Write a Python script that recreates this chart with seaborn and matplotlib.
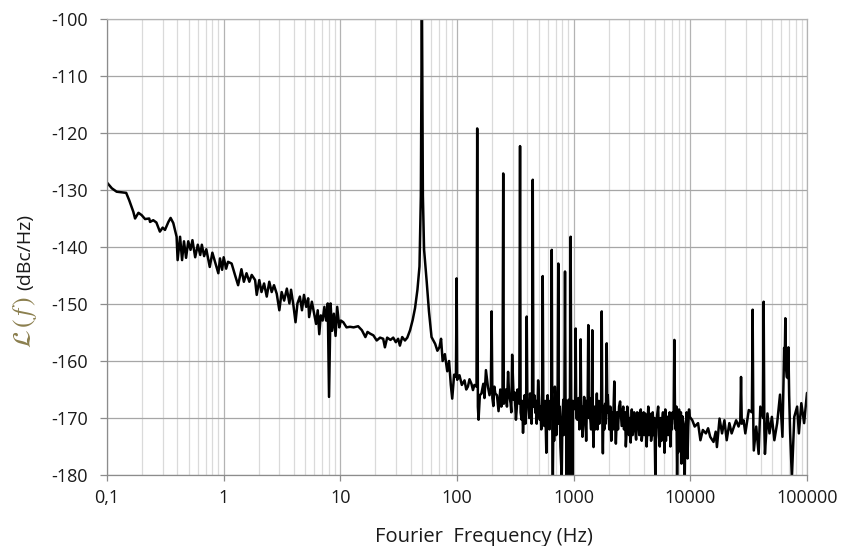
import matplotlib
matplotlib.use("Agg")
import matplotlib.pyplot as plt
import pandas as pd
import seaborn as sns
from matplotlib.ticker import FixedLocator, LogLocator, NullFormatter, FixedFormatter

sns.set_theme(style="white")
plt.rcParams['font.family'] = ['Open Sans', 'DejaVu Sans']
plt.rcParams['mathtext.fontset'] = 'stix'

# ---- noise floor trace (Hz, dBc/Hz) ----
floor_hz = [
    0.1, 0.11, 0.121, 0.134, 0.146, 0.155, 0.168, 0.174, 0.186, 0.198,
    0.212, 0.23, 0.234, 0.249, 0.265, 0.284, 0.30, 0.314, 0.336, 0.351,
    0.37, 0.395, 0.403, 0.423, 0.44, 0.457, 0.476, 0.497, 0.52, 0.54,
    0.57, 0.60, 0.63, 0.65, 0.68, 0.71, 0.76, 0.80, 0.84, 0.90,
    0.93, 0.97, 1.0, 1.05, 1.09, 1.17, 1.25, 1.33, 1.42, 1.49,
    1.57, 1.66, 1.74, 1.86, 1.92, 2.02, 2.11, 2.22, 2.34, 2.46,
    2.58, 2.70, 2.85, 3.00, 3.14, 3.30, 3.48, 3.66, 3.78, 3.96,
    4.13, 4.29, 4.50, 4.69, 4.88, 5.10, 5.30, 5.40, 5.70, 5.96,
    6.20, 6.40, 6.60, 6.80, 7.05, 7.30, 7.55, 7.80, 8.0, 8.25,
    8.50, 8.80, 9.10, 9.40, 9.80, 10.1, 10.6, 11.3, 12.1, 13.0,
    14.2, 15.3, 16.4, 17.1, 18.0, 19.2, 20.5, 21.9, 23.3, 24.1,
    25.2, 26.9, 28.4, 29.9, 31.3, 32.4, 33.9, 35.8, 37.5, 39.6,
    41.7, 43.7, 45.8, 47.7, 49.0, 51.0, 52.2, 55.0, 57.5, 60.5,
    65.0, 67.9, 70.7, 73.0, 75.3, 78.7, 82.5, 85.5, 88.5, 91.0,
    94.5, 101, 110, 116, 124, 133, 137, 141, 153, 162,
    177, 184, 205, 213, 227, 255, 274, 288, 297, 306,
    320, 335, 358, 368, 410, 423, 470, 496, 513, 560,
    583, 610, 663, 690, 790, 815, 870, 905, 920, 975,
    1000, 1075, 1190, 1230, 1390, 1480, 1580, 1640, 1780, 1990,
    2300, 2500, 2580, 2660, 2840, 2930, 3080, 3250, 3430, 3590,
    3760, 3910, 4100, 4290, 4470, 4680, 5010, 5180, 5470, 5740,
    6010, 6250, 6560, 6880, 7700, 8100, 8550, 8960, 9200, 9460,
    9890, 10400, 10900, 11650, 12200, 12800, 13600, 14200, 14800, 15800,
    16500, 16900, 17800, 18700, 19600, 20500, 21600, 22600, 23700, 24700,
    25900, 28600, 29600, 31700, 35000, 36700, 38500, 39800, 43600, 45800,
    47700, 50000, 52500, 55500, 58700, 61600, 63700, 67000, 71700, 74200,
    77800, 82300, 85200, 89400, 94500, 100000,
]
floor_dbc = [
    -128.7, -129.7, -130.3, -130.4, -130.5, -131.8, -133.8, -135.0, -134.0, -134.4,
    -135.1, -135.0, -135.6, -135.3, -135.7, -137.3, -136.6, -137.0, -135.6, -134.9,
    -135.8, -138.2, -142.3, -138.2, -142.3, -139.0, -141.9, -139.0, -140.5, -138.8,
    -141.8, -139.6, -141.4, -139.6, -141.6, -140.4, -143.5, -141.0, -142.5, -144.6,
    -142.0, -144.0, -141.8, -143.8, -142.6, -142.9, -144.9, -146.7, -143.9, -146.1,
    -144.6, -146.1, -144.9, -145.8, -148.4, -145.8, -147.9, -146.4, -148.7, -146.1,
    -147.9, -146.7, -148.2, -151.1, -147.9, -149.4, -147.3, -149.9, -147.5, -150.2,
    -153.2, -149.9, -148.7, -151.1, -148.4, -150.5, -149.0, -152.3, -149.6, -151.7,
    -153.5, -151.1, -155.3, -152.0, -152.9, -150.5, -152.9, -149.9, -166.3, -149.9,
    -154.7, -151.7, -155.6, -150.5, -154.1, -152.9, -153.2, -154.1, -154.0, -154.1,
    -153.9, -154.6, -155.8, -154.9, -155.2, -155.5, -156.4, -155.9, -156.1, -157.6,
    -155.9, -156.3, -155.9, -156.7, -156.1, -157.3, -155.8, -156.4, -155.9, -154.6,
    -152.8, -150.7, -147.5, -143.4, -131.0, -131.0, -140.4, -146.1, -151.3, -155.8,
    -157.0, -158.2, -157.6, -156.1, -160.0, -158.8, -161.8, -160.0, -164.2, -166.6,
    -162.4, -163.0, -164.2, -163.4, -164.5, -164.0, -165.1, -164.2, -170.3, -165.7,
    -161.6, -164.5, -167.9, -165.7, -168.8, -166.8, -161.9, -167.4, -158.9, -166.8,
    -170.3, -166.8, -170.3, -172.6, -167.9, -165.7, -169.1, -163.4, -170.3, -171.4,
    -176.1, -168.5, -180.5, -164.5, -180.5, -166.8, -181.0, -166.8, -180.5, -180.5,
    -168.5, -170.3, -173.3, -166.3, -170.3, -175.1, -165.7, -169.2, -176.2, -169.2,
    -174.5, -167.1, -171.4, -168.0, -172.6, -169.7, -174.3, -170.9, -173.8, -170.3,
    -168.5, -172.0, -169.2, -171.4, -169.2, -172.6, -180.5, -169.7, -175.0, -170.3,
    -176.1, -169.7, -171.4, -169.2, -180.5, -170.3, -169.7, -180.0, -170.4, -177.1,
    -169.8, -170.4, -171.5, -170.9, -173.9, -172.1, -172.7, -171.8, -173.3, -174.2,
    -172.4, -175.1, -170.1, -172.7, -170.4, -173.9, -170.9, -172.7, -171.5, -170.4,
    -171.5, -170.4, -172.7, -168.6, -175.7, -171.5, -176.3, -168.0, -176.3, -169.2,
    -172.7, -169.8, -173.9, -170.9, -165.9, -173.3, -157.7, -162.8, -172.7, -180.5,
    -169.8, -168.0, -172.7, -167.4, -170.9, -165.6,
]

# ---- fine ripple of the floor between 100 Hz and 10 kHz ----
ripple_hz = [
    105, 120, 128, 157, 168, 172, 190, 209, 220, 235,
    240, 262, 268, 280, 292, 312, 326, 330, 362, 374,
    380, 386, 416, 430, 436, 460, 476, 482, 490, 503,
    520, 528, 570, 590, 598, 620, 630, 672, 680, 700,
    710, 720, 760, 770, 800, 822, 860, 880, 890, 912,
    965, 985, 1100, 1120, 1170, 1210, 1260, 1280, 1300, 1370,
    1410, 1500, 1530, 1560, 1600, 1620, 1660, 1690, 1800, 1830,
    1860, 1880, 1960, 2020, 2060, 2100, 2140, 2180, 2350, 2400,
    2450, 2700, 2760, 2800, 2880, 2980, 3030, 3150, 3200, 3300,
    3360, 3500, 3650, 3700, 3830, 3980, 4040, 4160, 4220, 4360,
    4420, 4550, 4610, 4760, 4850, 4930, 5090, 5300, 5380, 5560,
    5650, 5830, 5920, 6100, 6180, 6350, 6450, 6650, 6750, 6950,
    7050, 7500, 7600, 7800, 7900, 8000, 8200, 8300, 8400, 8700,
    8800, 9050, 9300, 9600, 9750,
]
ripple_dbc = [
    -162.5, -165.0, -163.2, -166.0, -164.0, -166.5, -166.0, -164.5, -166.0, -165.0,
    -168.0, -165.0, -168.0, -166.0, -169.0, -165.5, -168.0, -165.0, -167.0, -169.0,
    -166.0, -171.0, -170.0, -168.0, -171.0, -166.0, -167.0, -171.0, -168.0, -166.0,
    -168.0, -172.0, -167.0, -170.0, -166.0, -172.0, -167.0, -168.0, -174.0, -167.0,
    -173.0, -168.0, -168.0, -175.0, -170.0, -173.0, -167.0, -172.0, -168.0, -170.0,
    -170.0, -167.0, -166.5, -172.0, -168.0, -171.0, -169.0, -174.0, -167.0, -166.5,
    -172.0, -168.0, -172.0, -170.0, -172.0, -167.0, -171.0, -167.0, -168.0, -172.0,
    -167.5, -171.0, -166.0, -172.0, -168.0, -174.0, -169.0, -172.0, -169.0, -172.0,
    -168.0, -172.0, -169.0, -175.0, -168.0, -173.0, -170.0, -168.5, -173.0, -169.0,
    -172.0, -169.0, -173.0, -169.0, -174.0, -169.0, -173.0, -171.0, -175.0, -168.0,
    -173.0, -170.0, -174.0, -169.0, -173.0, -170.0, -172.0, -168.0, -173.0, -170.0,
    -174.0, -169.0, -172.0, -168.5, -174.0, -170.0, -173.0, -169.0, -175.0, -172.0,
    -169.0, -172.0, -168.0, -171.0, -176.0, -168.5, -174.0, -169.0, -178.0, -171.0,
    -174.0, -172.0, -169.0, -171.5, -168.5,
]

# ---- discrete spurs (Hz, dBc/Hz) ----
spur_hz = [50, 99.3, 149, 198, 249, 347, 396, 446, 543, 649,
           738, 843, 942, 1040, 1148, 1334, 1444, 1740, 1920, 2230,
           7300, 27200, 34200, 42500, 65200, 69300]
spur_dbc = [-95.0, -145.5, -119.2, -151.3, -127.1, -122.3, -152.2, -128.2, -145.1, -140.5,
            -142.9, -144.3, -138.2, -154.3, -156.2, -153.7, -154.6, -151.3, -156.9, -163.6,
            -156.3, -162.8, -151.0, -149.6, -152.5, -157.6]

# floor level right at the foot of each spur (left / right side)
spur_foot_hz = [97.9, 100.4, 147, 151, 195, 201, 245.5, 252, 342, 351,
                391, 401, 440, 452, 536, 550, 641, 656, 728, 747,
                832, 853, 930, 955, 1027, 1053, 1133, 1162, 1317, 1350,
                1425, 1462, 1718, 1760, 1895, 1945, 2200, 2260, 7200, 7400,
                26800, 27600, 33700, 34700, 41900, 43100, 64400, 66000, 68400, 70300]
spur_foot_dbc = [-162.8, -163.3, -164.5, -168.0, -164.8, -166.5, -166.0, -167.5, -167.5, -169.0,
                 -168.5, -167.0, -166.0, -168.0, -167.5, -169.5, -170.0, -172.0, -169.0, -171.0,
                 -168.5, -170.0, -169.0, -171.0, -168.0, -170.0, -169.0, -171.0, -168.0, -170.0,
                 -169.0, -171.0, -168.0, -170.0, -167.0, -169.0, -168.0, -170.0, -170.0, -171.0,
                 -170.5, -171.0, -169.0, -172.0, -170.0, -172.0, -160.0, -161.0, -163.0, -166.0]

x_ticks = [0.1, 1, 10, 100, 1000, 10000, 100000]
x_tick_labels = ["0,1", "1", "10", "100", "1000", "10000", "100000"]
y_ticks = [-180, -170, -160, -150, -140, -130, -120, -110, -100]

df = pd.DataFrame({"freq": floor_hz + ripple_hz + spur_hz + spur_foot_hz,
                   "level": floor_dbc + ripple_dbc + spur_dbc + spur_foot_dbc})
df = df.drop_duplicates(subset="freq").sort_values("freq")

W, H = 841, 546
fig = plt.figure(figsize=(W / 100, H / 100), dpi=100)
ax = fig.add_axes([107 / W, 1 - 475 / H, 700 / W, 456 / H])

sns.lineplot(data=df, x="freq", y="level", ax=ax, color="black",
             linewidth=1.8, estimator=None, sort=True)

ax.set_xscale("log")
ax.set_xlim(0.1, 1e5)
ax.set_ylim(-180, -100)

ax.xaxis.set_major_locator(FixedLocator(x_ticks))
ax.xaxis.set_major_formatter(FixedFormatter(x_tick_labels))
ax.xaxis.set_minor_locator(LogLocator(base=10, subs=range(2, 10), numticks=20))
ax.xaxis.set_minor_formatter(NullFormatter())
ax.yaxis.set_major_locator(FixedLocator(y_ticks))
ax.set_yticklabels([str(v) for v in y_ticks])

ax.grid(True, which="major", axis="x", color="#b3b3b3", linewidth=0.9)
ax.grid(True, which="minor", axis="x", color="#dadada", linewidth=0.9)
ax.grid(True, which="major", axis="y", color="#a6a6a6", linewidth=0.9)
ax.set_axisbelow(True)

for s in ["left", "bottom"]:
    ax.spines[s].set_color("#8c8c8c")
    ax.spines[s].set_linewidth(0.9)
for s in ["top", "right"]:
    ax.spines[s].set_color("#b3b3b3")
    ax.spines[s].set_linewidth(0.9)

ax.tick_params(axis="x", which="major", direction="out", length=4, width=0.9,
               color="#8c8c8c", pad=6, labelsize=13, labelcolor="#1a1a1a", bottom=True)
ax.tick_params(axis="x", which="minor", length=0)
ax.tick_params(axis="y", which="major", direction="out", length=5, width=0.9,
               color="#8c8c8c", pad=9, labelsize=13, labelcolor="#1a1a1a", left=True)

ax.set_xlabel("")
ax.set_ylabel("")

fig.text(484 / W, 1 - 537 / H, "Fourier  Frequency (Hz)", ha="center", va="center",
         fontsize=14.5, color="#1a1a1a")
fig.text(25 / W, 1 - 290 / H, "(dBc/Hz)", rotation=90, ha="center", va="bottom",
         fontsize=14, color="#1a1a1a")
fig.text(25 / W, 1 - 296 / H, r"$\mathcal{L}\,(\,f\,)$", rotation=90, ha="center", va="top",
         fontsize=18.5, color="#8b7f4e")

fig.savefig("out.png", dpi=100)
